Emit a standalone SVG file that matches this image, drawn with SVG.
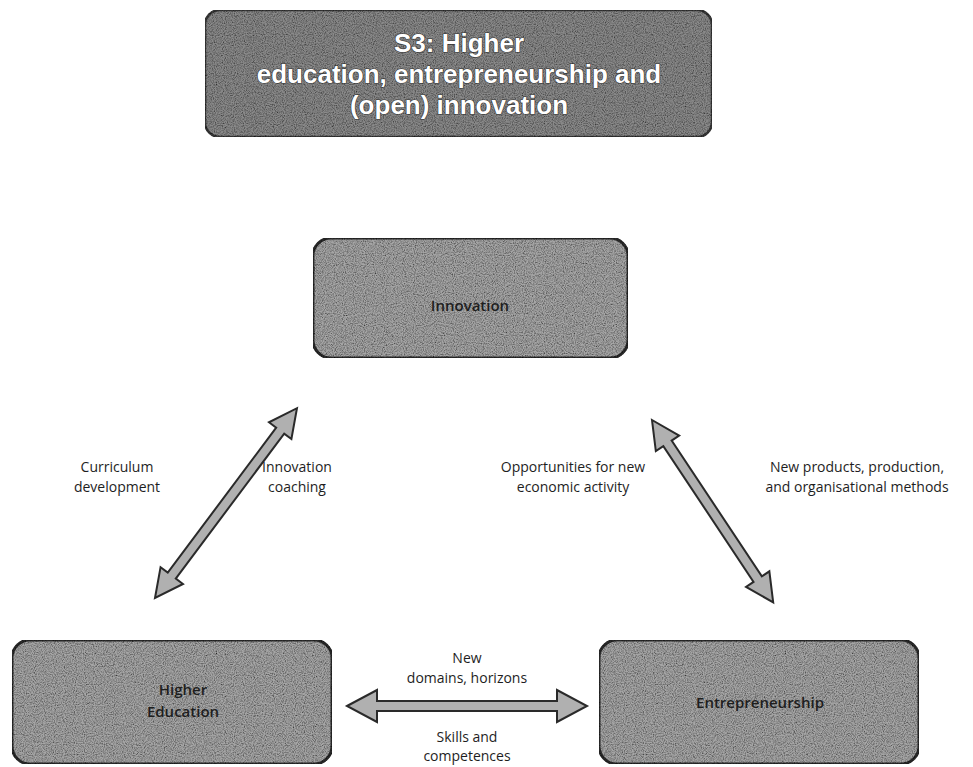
<svg xmlns="http://www.w3.org/2000/svg" width="973" height="767" viewBox="0 0 973 767">
<defs>
<filter id="grain" x="0" y="0" width="1" height="1">
<feTurbulence type="fractalNoise" baseFrequency="0.9" numOctaves="2" seed="3" result="n"/>
<feColorMatrix in="n" type="matrix" values="0 0 0 0 0  0 0 0 0 0  0 0 0 0 0  0 0 0 1.6 -0.55" result="dark"/>
<feComposite in="dark" in2="SourceGraphic" operator="in" result="d2"/>
<feMerge><feMergeNode in="SourceGraphic"/><feMergeNode in="d2"/></feMerge>
</filter>
<style>
.title{fill:#8a8a8a;stroke:#3a3a3a;stroke-width:2.5}
.box{fill:#a6a6a6;stroke:#2e2e2e;stroke-width:3}
.ttl{font-family:"Liberation Sans",Arial,sans-serif;font-size:26px;font-weight:700;fill:#ffffff;stroke:#333;stroke-width:1.2;paint-order:stroke;text-anchor:middle}
.lbl{font-family:"Open Sans","Liberation Sans",sans-serif;font-size:15px;font-weight:600;fill:#1e1e1e;text-anchor:middle}
.cl{font-family:"Open Sans","Liberation Sans",sans-serif;font-size:14px;fill:#1e1e1e;text-anchor:middle}
.arr{fill:#b0b0b0;stroke:#2a2a2a;stroke-width:2;stroke-linejoin:miter}
</style>
</defs>
<rect width="973" height="767" fill="#ffffff"/>
<g id="title">
<rect class="title" x="205" y="10" width="507" height="127" rx="15" filter="url(#grain)"/>
<text class="ttl" x="459" y="52">S3: Higher</text>
<text class="ttl" x="459" y="83">education, entrepreneurship and</text>
<text class="ttl" x="459" y="114">(open) innovation</text>
</g>
<g id="innovation">
<rect class="box" x="313" y="238" width="315" height="120" rx="18" filter="url(#grain)"/>
<text class="lbl" x="470" y="311">Innovation</text>
</g>
<g id="higher-education">
<rect class="box" x="12" y="640" width="320" height="124" rx="18" filter="url(#grain)"/>
<text class="lbl" x="183" y="695">Higher</text>
<text class="lbl" x="183" y="717">Education</text>
</g>
<g id="entrepreneurship">
<rect class="box" x="599" y="640" width="320" height="124" rx="18" filter="url(#grain)"/>
<text class="lbl" x="760" y="708">Entrepreneurship</text>
</g>
<g id="connectors">
<path class="arr" transform="translate(155,598) rotate(-53.2)" d="M0,0 L28,-14 L28,-5 L209,-5 L209,-14 L237,0 L209,14 L209,5 L28,5 L28,14 Z"/>
<path class="arr" transform="translate(652,420) rotate(56.4)" d="M0,0 L28,-14 L28,-5 L191,-5 L191,-14 L219,0 L191,14 L191,5 L28,5 L28,14 Z"/>
<path class="arr" transform="translate(347,706)" d="M0,0 L30,-16 L30,-5 L210,-5 L210,-16 L240,0 L210,16 L210,5 L30,5 L30,16 Z"/>
</g>
<g id="labels">
<text class="cl" x="117" y="472">Curriculum</text>
<text class="cl" x="117" y="492">development</text>
<text class="cl" x="297" y="472">Innovation</text>
<text class="cl" x="297" y="492">coaching</text>
<text class="cl" x="573" y="472">Opportunities for new</text>
<text class="cl" x="573" y="492">economic activity</text>
<text class="cl" x="857" y="472">New products, production,</text>
<text class="cl" x="857" y="492">and organisational methods</text>
<text class="cl" x="467" y="663">New</text>
<text class="cl" x="467" y="683">domains, horizons</text>
<text class="cl" x="467" y="742">Skills and</text>
<text class="cl" x="467" y="761">competences</text>
</g>
</svg>
